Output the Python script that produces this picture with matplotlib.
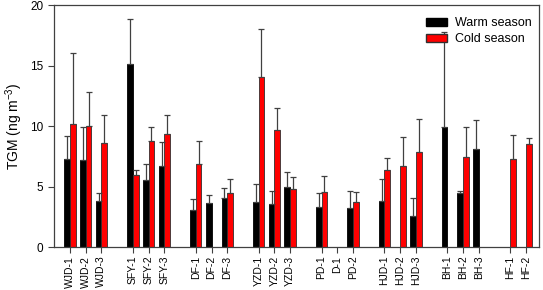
import numpy as np
import matplotlib
matplotlib.use("Agg")
import matplotlib.pyplot as plt
from matplotlib.patches import Patch

plt.rcParams['font.family'] = ['Liberation Sans', 'DejaVu Sans']
plt.rcParams['mathtext.default'] = 'regular'

groups = [
    ["WJD-1", "WJD-2", "WJD-3"],
    ["SFY-1", "SFY-2", "SFY-3"],
    ["DF-1", "DF-2", "DF-3"],
    ["YZD-1", "YZD-2", "YZD-3"],
    ["PD-1", "D-1", "PD-2"],
    ["HJD-1", "HJD-2", "HJD-3"],
    ["BH-1", "BH-2", "BH-3"],
    ["HF-1", "HF-2"],
]
nan = np.nan
warm = [7.27, 7.22, 3.83, 15.12, 5.56, 6.69, 3.09, 3.66, 4.08,
        3.75, 3.61, 5.01, 3.36, nan, 3.25, 3.86, nan, 2.62,
        9.97, 4.52, 8.10, nan, nan]
warm_err = [1.93, 2.75, 0.63, 3.75, 1.30, 1.99, 0.93, 0.67, 0.85,
            1.46, 1.07, 1.22, 1.16, nan, 1.43, 1.76, nan, 1.48,
            7.80, 0.14, 2.42, nan, nan]
cold = [10.22, 10.0, 8.6, 5.95, 8.76, 9.39, 6.89, nan, 4.52,
        14.08, 9.67, 4.82, 4.57, nan, 3.77, 6.36, 6.72, 7.85,
        nan, 7.47, nan, 7.30, 8.51]
cold_err = [5.81, 2.87, 2.34, 0.41, 1.21, 1.55, 1.93, nan, 1.13,
            3.99, 1.87, 0.99, 1.35, nan, 0.80, 1.00, 2.37, 2.78,
            nan, 2.47, nan, 2.01, 0.55]
yticks = [0, 5, 10, 15, 20]

labels = []
pos = []
p = 0
for g in groups:
    for lab in g:
        labels.append(lab)
        pos.append(p)
        p += 1
    p += 1
pos = np.array(pos, dtype=float)

fig = plt.figure(figsize=(5.43, 2.90), dpi=100)
ax = fig.add_axes([0.0994, 0.1472, 0.8932, 0.8345])

w = 0.36
warm = np.array(warm); cold = np.array(cold)
warm_err = np.array(warm_err); cold_err = np.array(cold_err)
ecol = '#404040'
mw = ~np.isnan(warm)
mc = ~np.isnan(cold)
ax.bar(pos[mw] - w/2, warm[mw], width=w, color='black', edgecolor='black', linewidth=0.6,
       yerr=[np.zeros(mw.sum()), warm_err[mw]], error_kw=dict(ecolor=ecol, elinewidth=0.9, capsize=2.2, capthick=0.9))
ax.bar(pos[mc] + w/2, cold[mc], width=w, color='#ff0000', edgecolor='#303030', linewidth=0.6,
       yerr=[np.zeros(mc.sum()), cold_err[mc]], error_kw=dict(ecolor=ecol, elinewidth=0.9, capsize=2.2, capthick=0.9))

ax.set_xlim(-1.02, 29.83)
ax.set_ylim(0, 20)
ax.set_yticks(yticks)
ax.set_xticks(pos)
ax.set_xticklabels(labels, rotation=90, fontsize=7.5)
ax.tick_params(axis='y', labelsize=8.5, direction='out', length=4, color='#404040')
ax.tick_params(axis='x', direction='out', length=4, color='#404040', pad=2)
for s in ax.spines.values():
    s.set_color('#404040')
    s.set_linewidth(0.9)
ax.set_ylabel('TGM (ng m$^{-3}$)', fontsize=10)

handles = [Patch(facecolor='black', edgecolor='black'),
           Patch(facecolor='#ff0000', edgecolor='#303030')]
ax.legend(handles, ['Warm season', 'Cold season'], loc='upper right', frameon=False,
          fontsize=9, handlelength=1.75, handleheight=0.65, handletextpad=0.6,
          labelspacing=0.3, borderpad=0.2, borderaxespad=0.0,
          bbox_to_anchor=(0.99, 0.96))

fig.savefig('out.png', dpi=100)
